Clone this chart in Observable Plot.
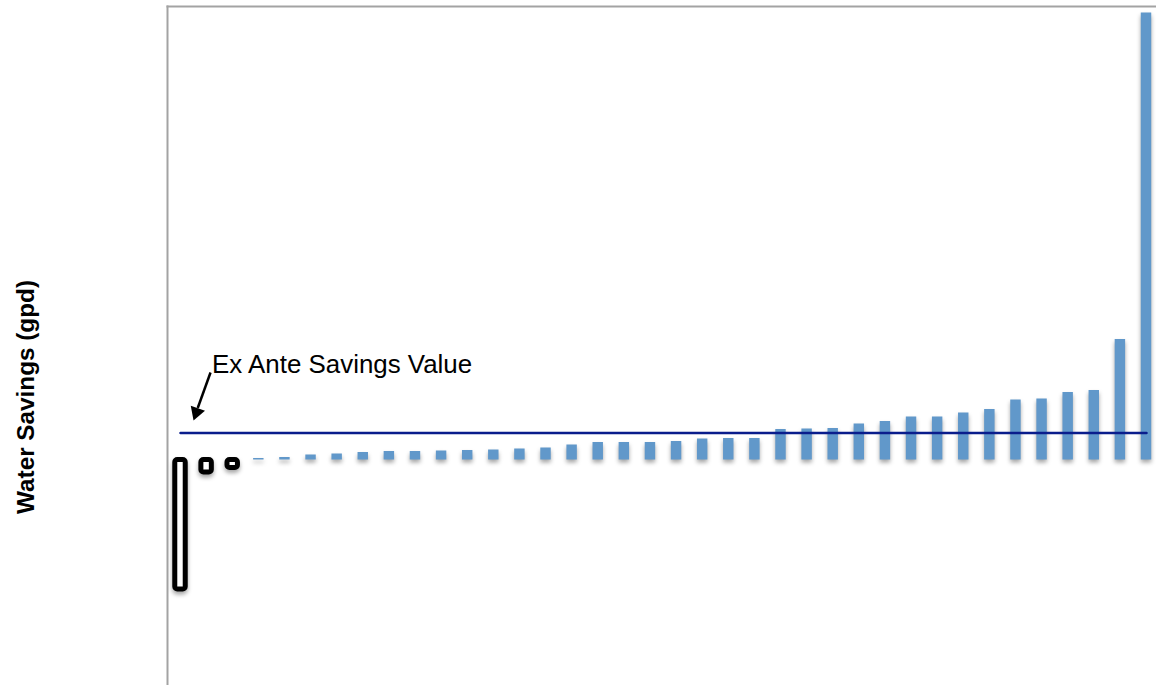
<!DOCTYPE html>
<html><head><meta charset="utf-8">
<script src="https://cdn.jsdelivr.net/npm/d3@7"></script>
<script src="https://cdn.jsdelivr.net/npm/@observablehq/plot@0.6"></script>
<style>
html,body{margin:0;padding:0;background:#fff;overflow:hidden}
</style></head><body><div id="chart"></div>
<script>
// Participants (sorted by savings), one bar each
const participants = d3.range(1, 39);
// Water savings per participant (gpd)
const savings = [-129.5, -12.5, -8, 1.5, 2.5, 5, 6, 7.5, 8.5, 8.5, 9, 9.5, 10, 11, 12, 15, 17.5, 17.5, 17.5, 18.5,
  21, 21.5, 21.5, 30.5, 31, 31.5, 36, 38.5, 43, 43, 47, 50.5, 60, 61, 67.5, 69.5, 120.5, 447];
const exAnteValue = 27;
const yTitle = "Water Savings (gpd)";
const annotationText = "Ex Ante Savings Value";

const rows = participants.map((p, i) => ({p, v: savings[i]}));
const pos = rows.filter(d => d.v >= 0);
const neg = rows.filter(d => d.v < 0);
const font = "'Liberation Sans', Arial, Helvetica, sans-serif";
const shadow = "drop-shadow(0px 3px 2px rgba(0,0,0,0.35))";

const chart = Plot.plot({
  width: 1156,
  height: 685,
  marginLeft: 167,
  marginRight: 0,
  marginTop: 6,
  marginBottom: 0,
  style: {fontFamily: font, background: "#fff"},
  x: {type: "linear", domain: [0.502, 38.383], axis: null},
  y: {domain: [-225.5, 453.5], axis: null},
  marks: [
    Plot.frame({anchor: "left", stroke: "#a3a3a3", strokeWidth: 2}),
    Plot.frame({anchor: "top", stroke: "#a3a3a3", strokeWidth: 2}),
    Plot.rectY(pos, {x1: d => d.p - 0.2, x2: d => d.p + 0.2, y1: 0, y2: "v",
      fill: "#6198ca", imageFilter: shadow}),
    Plot.rectY(neg, {x1: d => d.p - 0.2, x2: d => d.p + 0.2, y1: 0, y2: "v",
      fill: "white", stroke: "black", strokeWidth: 5, rx: 2.5, imageFilter: shadow}),
    Plot.lineY(participants, {x: d => d, y: () => exAnteValue, stroke: "#0a1d8c", strokeWidth: 2.5}),
    Plot.text([annotationText], {x: 2.21, y: 87.5, text: d => d, textAnchor: "start", lineAnchor: "bottom",
      fontSize: 25.9, fill: "black"}),
    Plot.link([annotationText], {x1: 2.15, y1: 87.5, x2: 1.66, y2: 52, stroke: "black", strokeWidth: 2.5}),
    Plot.dot([annotationText], {x: 1.61, y: 47.6, symbol: "triangle", r: 5.6, rotate: 199.5,
      fill: "black", stroke: "none"}),
    Plot.text([yTitle], {frameAnchor: "left", text: d => d, rotate: -90, dx: -134, dy: 51,
      lineAnchor: "bottom", textAnchor: "middle", fontSize: 24.3, fontWeight: "bold", fill: "black"})
  ]
});
document.getElementById("chart").appendChild(chart);
</script>
</body></html>
